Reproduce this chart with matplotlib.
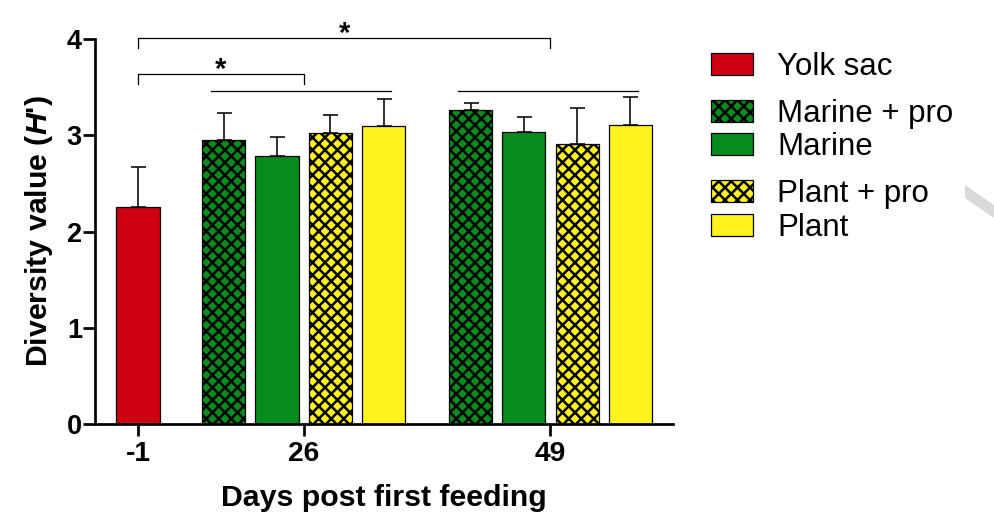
import matplotlib
matplotlib.use('Agg')
import matplotlib.pyplot as plt
from matplotlib.patches import Rectangle
import numpy as np

plt.rcParams['font.family'] = ['Liberation Sans', 'DejaVu Sans']
plt.rcParams['mathtext.fontset'] = 'custom'
plt.rcParams['mathtext.bfit'] = 'Liberation Sans:bold:italic'
plt.rcParams['hatch.linewidth'] = 2.4

# data
days = ['-1', '26', '49']
labels = ['Yolk sac', 'Marine + pro', 'Marine', 'Plant + pro', 'Plant']
yolk_mean = [2.25]
yolk_sd = [0.42]
marine_pro_mean = [2.95, 3.26]
marine_pro_sd = [0.28, 0.08]
marine_mean = [2.78, 3.03]
marine_sd = [0.20, 0.16]
plant_pro_mean = [3.02, 2.91]
plant_pro_sd = [0.19, 0.37]
plant_mean = [3.10, 3.11]
plant_sd = [0.28, 0.29]

RED = '#CC0010'
GREEN = '#068C1C'
YELLOW = '#FFF21E'

DPI = 75  # hatch spacing is per inch, this gives the tighter cross-hatch
W, H = 994, 517
fig = plt.figure(figsize=(W / DPI, H / DPI), dpi=DPI)
ax = fig.add_axes([95 / W, 93 / H, 578 / W, 385 / H])

centers = np.array([0, 3.11, 7.74])
width = 0.81
offsets = [-1.5, -0.5, 0.5, 1.5]

ax.bar(centers[0], yolk_mean, width, color=RED, edgecolor='black', linewidth=1.2, zorder=2)
ax.errorbar(centers[:1], yolk_mean, yerr=[[0], yolk_sd], fmt='none', ecolor='black',
            elinewidth=1.5, capsize=7.2, capthick=1.5, zorder=3)

fed = [
    (marine_pro_mean, marine_pro_sd, GREEN, 'xx'),
    (marine_mean, marine_sd, GREEN, ''),
    (plant_pro_mean, plant_pro_sd, YELLOW, 'xx'),
    (plant_mean, plant_sd, YELLOW, ''),
]
for off, (m, s, c, h) in zip(offsets, fed):
    xs = centers[1:] + off
    ax.bar(xs, m, width, color=c, edgecolor='black', linewidth=1.2, hatch=h, zorder=2)
    ax.errorbar(xs, m, yerr=[np.zeros(len(m)), s], fmt='none', ecolor='black',
                elinewidth=1.5, capsize=7.2, capthick=1.5, zorder=3)

ax.set_xlim(-0.807, 10.04)
ax.set_ylim(0, 4)
ax.set_yticks([0, 1, 2, 3, 4])
ax.set_xticks(centers)
ax.set_xticklabels(days)
for sp in ['top', 'right']:
    ax.spines[sp].set_visible(False)
for sp in ['left', 'bottom']:
    ax.spines[sp].set_linewidth(2.6)
ax.tick_params(axis='both', length=11.5, width=2.6, direction='out')
ax.tick_params(axis='y', labelsize=26, pad=1)
ax.tick_params(axis='x', labelsize=27, pad=5)
for t in ax.get_xticklabels() + ax.get_yticklabels():
    t.set_fontweight('bold')

ax.set_xlabel('Days post first feeding', fontsize=29, fontweight='bold', labelpad=16)
ax.set_ylabel("Diversity value ($\\mathbfit{H}$')", fontsize=29, fontweight='bold', labelpad=11)

# significance brackets
def bracket(x0, x1, y, leg, star=True):
    ax.plot([x0, x0, x1, x1], [y - leg, y, y, y - leg], color='black', lw=1.2,
            clip_on=False, zorder=4)
    if star:
        ax.text((x0 + x1) / 2, y - 0.04, '*', ha='center', va='baseline', fontsize=28,
                fontweight='bold', clip_on=False)

bracket(centers[0], centers[2], 4.01, 0.105)
bracket(centers[0], centers[1], 3.64, 0.11)
for c in centers[1:]:
    ax.plot([c - 1.74, c + 1.64], [3.455, 3.455], color='black', lw=1.2, clip_on=False)

# legend drawn in pixel coordinates
lax = fig.add_axes([0, 0, 1, 1])
lax.set_xlim(0, W)
lax.set_ylim(H, 0)
lax.axis('off')
lax.patch.set_visible(False)
rows = [64, 111, 144, 191, 225]
styles = [(RED, ''), (GREEN, 'xx'), (GREEN, ''), (YELLOW, 'xx'), (YELLOW, '')]
for lab, y, (c, h) in zip(labels, rows, styles):
    lax.add_patch(Rectangle((711, y - 11), 42, 22, facecolor=c, edgecolor='black',
                            linewidth=1.2, hatch=h))
    lax.text(777, y + 11, lab, fontsize=30, va='baseline', ha='left')

# faint watermark stroke on the right edge
lax.fill([965, 994, 994, 965], [185, 205, 218, 198], color='#d9d9d9', lw=0)

fig.savefig('out.png', dpi=DPI)
